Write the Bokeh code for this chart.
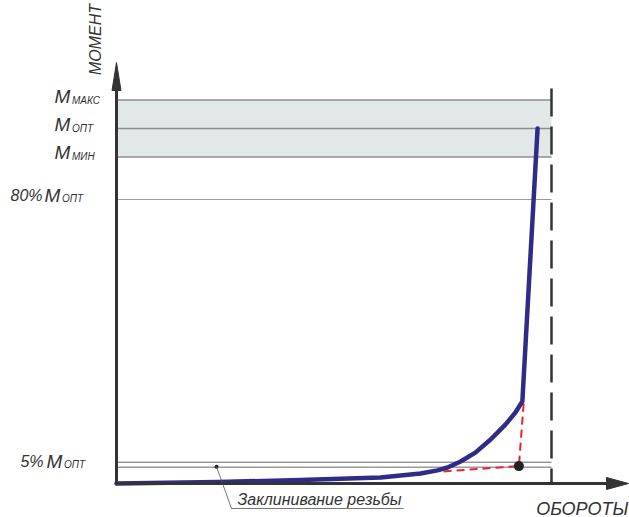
from bokeh.plotting import figure
from bokeh.models import Range1d, Label
from bokeh.embed import file_html
from bokeh.resources import INLINE

# ---------------- data ----------------
# torque levels (% of M_opt)
level_subs = ["МАКС", "ОПТ", "МИН"]
level_vals = [108, 100, 92]
pct80_val = 80
pct5_label_val = 5
pct5_lines = [6.0, 4.6]
limit_rev = 100            # vertical dashed limit (revolutions, % scale)

# tightening curve (revolutions vs torque)
curve_rev = [0, 23.2, 42.3, 60.7, 65.3, 69.9, 73.8, 76.1, 79.1, 82.5, 86.0, 89.4, 91.7, 93.3, 96.8]
curve_torque = [0, 0.4, 1.0, 1.7, 2.25, 2.8, 3.7, 4.5, 6.2, 8.7, 12.4, 16.6, 20.0, 23.1, 100]

# thread seizure construction (red dashed)
seize_rev = [75.2, 92.5, 93.6]
seize_torque = [3.4, 4.9, 22.5]
seize_point_rev = [92.5]
seize_point_torque = [4.9]

note_point_rev = [23.0]
note_point_torque = [4.7]
note_text = "Заклинивание резьбы"
x_title = "ОБОРОТЫ"
y_title = "МОМЕНТ"

# ---------------- layout helpers ----------------
W, H = 629, 517
OFF = 0
X0, XS = 116.0, 4.35   # page px of x=0, px per unit
Y0, YS = 483.0, 3.55   # page px of y=0, px per unit
LIFT = 4 / YS          # text baseline correction


def px(xp):
    return (xp - X0) / XS


def py(yp):
    return (Y0 - yp) / YS


p = figure(width=W, height=H, output_backend="svg", toolbar_location=None,
           x_axis_type=None, y_axis_type=None,
           x_range=Range1d(px(OFF), px(OFF + W)),
           y_range=Range1d(py(OFF + H), py(OFF)))
p.min_border_left = p.min_border_right = p.min_border_top = p.min_border_bottom = 0
p.outline_line_color = None
p.background_fill_color = "white"

FONT = "Liberation Sans"
TXT = "#333333"
AX = "#333333"

# band between M_min and M_max
p.quad(left=[0], right=[limit_rev], bottom=[level_vals[2]], top=[level_vals[0]],
       fill_color="#e2e8e8", line_color=None)

# level lines
for v in level_vals:
    p.line([0, limit_rev], [v, v], line_color="#8c8c8c", line_width=1.5)
p.line([0, limit_rev], [pct80_val, pct80_val], line_color="#9a9a9a", line_width=1.2)
for v in pct5_lines:
    p.line([0, limit_rev], [v, v], line_color="#555555", line_width=0.9)

# vertical dashed limit
p.line([limit_rev, limit_rev], [py(88), 0], line_color=AX, line_width=2.5, line_dash="28 10")

# red dashed construction
p.line(seize_rev, seize_torque, line_color="#e8232a", line_width=2, line_dash="8 5")

# curve
p.line(curve_rev, curve_torque, line_color="#2f2c88", line_width=4.5,
       line_join="round", line_cap="round")

# seizure point
p.scatter(seize_point_rev, seize_point_torque, size=10, fill_color="#222222", line_color=None)

# axes
p.line([0, 0], [0, py(90)], line_color=AX, line_width=3)
p.line([0, px(606)], [0, 0], line_color=AX, line_width=3)
# arrow heads
p.patch([-4.5 / XS, 4.5 / XS, 0], [py(90), py(90), py(62)], fill_color=AX, line_color=AX)
p.patch([px(606), px(606), px(628)], [6 / YS, -6 / YS, 0], fill_color=AX, line_color=AX)

# annotation leader
p.scatter(note_point_rev, note_point_torque, size=4, fill_color="#222222", line_color=None)
p.line([note_point_rev[0], px(231), px(403)], [note_point_torque[0], py(508), py(508)],
       line_color="#555555", line_width=0.8)


def lab(x, y, text, size, align="left", baseline="alphabetic", angle=0):
    p.add_layout(Label(x=x, y=y + LIFT, text=text, text_font=FONT, text_font_style="italic",
                       text_font_size=f"{size}px", text_color=TXT, text_align=align,
                       text_baseline=baseline, angle=angle))


# level labels
for sub, v in zip(level_subs, level_vals):
    lab(px(54), v, "M", 19)
    lab(px(71.5), v - 4 / YS, sub, 10)

lab(px(42), pct80_val, "80%", 16, align="right")
lab(px(44), pct80_val, "M", 19)
lab(px(61.5), pct80_val - 3 / YS, "ОПТ", 10)

lab(px(43), pct5_label_val, "5%", 16, align="right")
lab(px(46), pct5_label_val, "M", 19)
lab(px(63.5), pct5_label_val - 3 / YS, "ОПТ", 10)

# titles
lab(px(91) + 4 / XS, py(39) - LIFT, y_title, 16, align="center", baseline="alphabetic",
    angle=1.5708)
lab(px(628), py(512), x_title, 18, align="right")
lab(px(237), py(503), note_text, 16)

open("out.html", "w").write(file_html(p, INLINE))
